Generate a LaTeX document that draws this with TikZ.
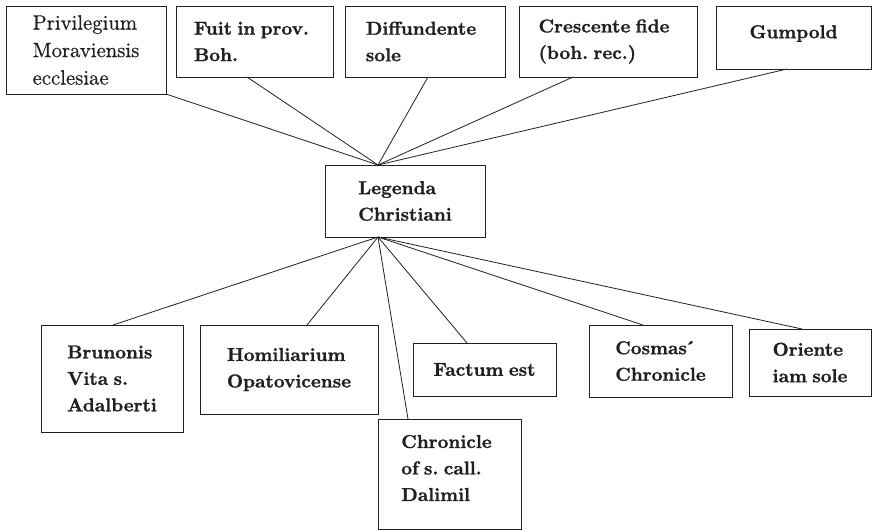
\documentclass[tikz,border=0pt]{standalone}
\usepackage{fontspec}
\newfontfamily\bxfont{lmroman10-bold.otf}[FakeBold=1.2, WordSpace=0.75]
\newfontfamily\rgfont{lmroman10-regular.otf}[FakeBold=0.6]
\definecolor{ink}{HTML}{231F20}
\frenchspacing
\begin{document}
\begin{tikzpicture}[x=1pt,y=-1pt,
  box/.style={draw=ink, line width=1pt, inner sep=0pt, outer sep=0pt, anchor=north west},
  txt/.style={text=ink, align=left, inner sep=0pt, font=\fontsize{18.7}{26.5}\bxfont\frenchspacing},
  rtxt/.style={text=ink, align=left, inner sep=0pt, font=\fontsize{20.7}{27.5}\rgfont\frenchspacing},
  link/.style={draw=ink, line width=0.8pt}]
\useasboundingbox (0,0) rectangle (873,531);
% top row
\node[box, minimum width=160pt, minimum height=88pt] (b1) at (6,6) {};
\node[box, minimum width=157pt, minimum height=71pt] (b2) at (176,6) {};
\node[box, minimum width=160pt, minimum height=71pt] (b3) at (345,6) {};
\node[box, minimum width=178pt, minimum height=71pt] (b4) at (519,6) {};
\node[box, minimum width=155pt, minimum height=63pt] (b5) at (716,6) {};
% centre
\node[box, minimum width=160pt, minimum height=72pt] (c) at (325,165) {};
% bottom row
\node[box, minimum width=142pt, minimum height=107pt] (d1) at (41,325) {};
\node[box, minimum width=178pt, minimum height=89pt] (d2) at (200,325) {};
\node[box, minimum width=143pt, minimum height=110pt] (d3) at (378,419) {};
\node[box, minimum width=143pt, minimum height=53pt] (d4) at (413,343) {};
\node[box, minimum width=143pt, minimum height=72pt] (d5) at (589,325) {};
\node[box, minimum width=122pt, minimum height=67pt] (d6) at (749,329) {};
% texts
\node[rtxt] (t1) at (b1.center) {Privilegium\\Moraviensis\\ecclesiae};
\node[txt] (t2) at ([xshift=-3pt]b2.center) {Fuit in prov.\\Boh.};
\node[txt] (t3) at ([xshift=-4pt]b3.center) {Diffundente\\sole};
\node[txt] (t4) at ([xshift=-4pt]b4.center) {Crescente fide\\(boh. rec.)};
\node[txt] (t5) at ([yshift=4pt]b5.center) {Gumpold};
\node[txt] (tc) at (c.center) {Legenda\\Christiani};
\node[txt] (u1) at (d1.center) {Brunonis\\Vita s.\\Adalberti};
\node[txt] (u2) at (d2.center) {Homiliarium\\Opatovicense};
\node[txt] (u3) at ([xshift=-3pt,yshift=6pt]d3.center) {Chronicle\\of s. call.\\Dalimil};
\node[txt] (u4) at (d4.center) {Factum est};
\node[txt] (u5) at (d5.center) {Cosmas\kern-2.5pt´\\Chronicle};
\node[txt] (u6) at (d6.center) {Oriente\\iam sole};
% connectors
\draw[link] (b1.south east) -- ([xshift=53pt]c.north west);
\draw[link] ([xshift=71pt]b2.south west) -- ([xshift=53pt]c.north west);
\draw[link] ([xshift=83pt]b3.south west) -- ([xshift=53pt]c.north west);
\draw[link] ([xshift=54pt]b4.south west) -- ([xshift=53pt]c.north west);
\draw[link] ([xshift=71pt]b5.south west) -- ([xshift=53pt]c.north west);
\draw[link] ([xshift=53pt]c.south west) -- ([xshift=72pt]d1.north west);
\draw[link] ([xshift=53pt]c.south west) -- ([xshift=107pt]d2.north west);
\draw[link] ([xshift=53pt]c.south west) -- ([xshift=30pt]d3.north west);
\draw[link] ([xshift=53pt]c.south west) -- ([xshift=54pt]d4.north west);
\draw[link] ([xshift=53pt]c.south west) -- ([xshift=54pt]d5.north west);
\draw[link] ([xshift=53pt]c.south west) -- ([xshift=53pt]d6.north west);
\end{tikzpicture}
\end{document}
